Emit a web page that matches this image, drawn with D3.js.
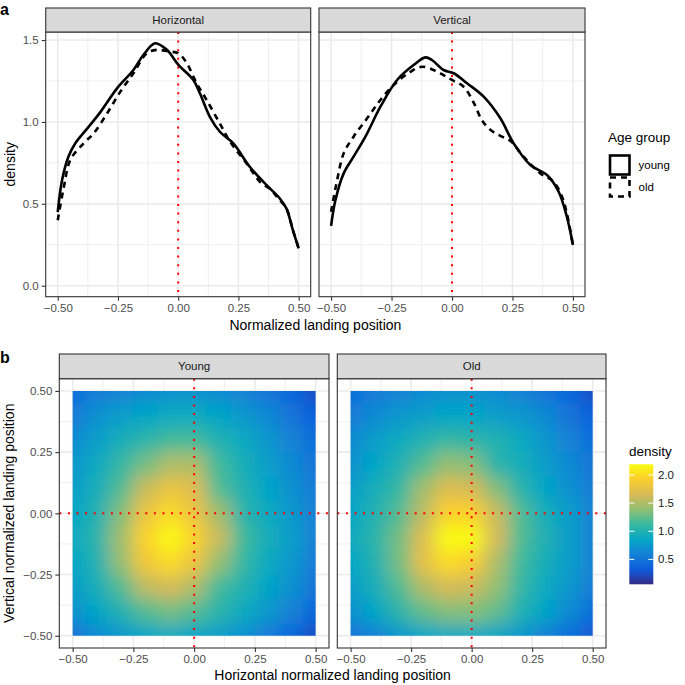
<!DOCTYPE html>
<html><head><meta charset="utf-8">
<script src="https://cdn.jsdelivr.net/npm/d3@7"></script>
<style>
body{margin:0;background:#fff}
svg{display:block}
text{font-family:"Liberation Sans",Arial,Helvetica,sans-serif}
</style>
</head><body>
<svg id="chart" width="685" height="685"></svg>
<script>
// ---------------- DATA ----------------
const facetsA = ["Horizontal", "Vertical"];
const ageGroups = ["young", "old"];

// Panel a: density curves (x = normalized landing position, y = density)
const horizYoungX = [-0.5,-0.482,-0.455,-0.427,-0.372,-0.323,-0.254,-0.186,-0.144,-0.096,-0.047,0.0,0.063,0.09,0.132,0.173,0.228,0.297,0.366,0.421,0.449,0.476,0.5];
const horizYoungY = [0.45,0.645,0.79,0.87,0.97,1.06,1.205,1.317,1.41,1.48,1.44,1.35,1.256,1.175,1.03,0.94,0.87,0.726,0.615,0.534,0.472,0.34,0.228];
const horizOldX = [-0.5,-0.475,-0.447,-0.392,-0.351,-0.296,-0.24,-0.186,-0.13,-0.089,-0.04,0.0,0.035,0.077,0.118,0.173,0.215,0.284,0.339,0.387,0.414,0.449,0.476,0.5];
const horizOldY = [0.40,0.60,0.77,0.87,0.93,1.05,1.185,1.297,1.42,1.44,1.43,1.42,1.36,1.235,1.134,0.99,0.88,0.747,0.635,0.584,0.534,0.472,0.34,0.228];
const vertYoungX = [-0.5,-0.482,-0.448,-0.407,-0.358,-0.296,-0.227,-0.159,-0.11,-0.083,-0.035,0.007,0.062,0.131,0.2,0.255,0.324,0.393,0.441,0.475,0.5];
const vertYoungY = [0.365,0.523,0.686,0.788,0.91,1.093,1.256,1.347,1.394,1.378,1.317,1.297,1.236,1.154,1.022,0.869,0.737,0.676,0.574,0.421,0.248];
const vertOldX = [-0.5,-0.475,-0.448,-0.407,-0.351,-0.296,-0.241,-0.172,-0.124,-0.076,-0.035,0.0,0.048,0.089,0.124,0.16,0.2,0.241,0.296,0.365,0.42,0.455,0.475,0.5];
const vertOldY = [0.452,0.645,0.808,0.91,1.022,1.134,1.225,1.306,1.337,1.317,1.286,1.256,1.215,1.12,1.01,0.95,0.915,0.885,0.788,0.686,0.635,0.543,0.442,0.25];

const posTicks = [-0.5, -0.25, 0, 0.25, 0.5];
const posTickLabels = ["\u22120.50", "\u22120.25", "0.00", "0.25", "0.50"];
const posMinor = [-0.375, -0.125, 0.125, 0.375];
const densTicks = [0, 0.5, 1, 1.5];
const densTickLabels = ["0.0", "0.5", "1.0", "1.5"];
const densMinor = [0.25, 0.75, 1.25];

// Panel b: 2D density grids (rows from vertical +0.5 down to -0.5, columns horizontal -0.5 .. +0.5)
const facetsB = ["Young", "Old"];
const gridPos = [-0.5,-0.4,-0.3,-0.2,-0.1,0,0.1,0.2,0.3,0.4,0.5];
const gridRowPos = [0.5,0.4,0.3,0.2,0.1,0,-0.1,-0.2,-0.3,-0.4,-0.5];
const youngGrid = [
  [0.45,0.55,0.60,0.65,0.70,0.70,0.65,0.60,0.50,0.40,0.25],
  [0.55,0.70,0.80,0.85,0.90,0.90,0.85,0.75,0.65,0.50,0.35],
  [0.65,0.80,0.95,1.05,1.15,1.15,1.00,0.90,0.75,0.60,0.45],
  [0.75,0.90,1.10,1.30,1.50,1.50,1.15,0.95,0.80,0.65,0.50],
  [0.80,0.95,1.20,1.60,1.80,1.70,1.20,1.00,0.85,0.70,0.55],
  [0.85,1.00,1.35,1.80,2.00,1.80,1.45,1.05,0.90,0.75,0.60],
  [0.90,1.05,1.45,1.95,2.40,1.95,1.60,1.15,0.95,0.80,0.60],
  [0.85,1.00,1.40,1.85,2.00,1.80,1.40,1.10,0.90,0.75,0.55],
  [0.80,0.95,1.20,1.55,1.65,1.50,1.15,1.00,0.85,0.70,0.50],
  [0.70,0.85,1.00,1.20,1.30,1.20,1.05,0.90,0.75,0.60,0.40],
  [0.50,0.65,0.75,0.85,0.90,0.85,0.80,0.70,0.55,0.40,0.25]
];
const oldGrid = [
  [0.45,0.55,0.60,0.65,0.70,0.70,0.65,0.60,0.50,0.40,0.25],
  [0.55,0.65,0.75,0.80,0.85,0.85,0.80,0.75,0.65,0.50,0.35],
  [0.65,0.80,0.90,1.00,1.10,1.05,1.00,0.90,0.75,0.60,0.45],
  [0.70,0.85,1.00,1.20,1.40,1.35,1.05,0.95,0.80,0.65,0.50],
  [0.80,0.95,1.10,1.45,1.70,1.65,1.35,1.05,0.85,0.70,0.55],
  [0.85,1.00,1.20,1.55,1.95,1.95,1.60,1.20,0.95,0.80,0.60],
  [0.90,1.05,1.30,1.70,2.20,2.30,1.65,1.20,1.00,0.80,0.60],
  [0.85,1.00,1.30,1.75,2.00,1.90,1.50,1.15,0.95,0.80,0.60],
  [0.80,0.95,1.20,1.50,1.65,1.60,1.40,1.10,0.90,0.75,0.55],
  [0.70,0.85,1.05,1.25,1.35,1.35,1.25,1.00,0.85,0.65,0.45],
  [0.50,0.60,0.75,0.85,0.90,0.90,0.85,0.75,0.60,0.45,0.30]
];
const colorbarTicks = [0.5, 1.0, 1.5, 2.0];
const colorbarTickLabels = ["0.5", "1.0", "1.5", "2.0"];
const colorDomain = [0.057, 2.19];

// ---------------- STYLE ----------------
const parula = ["#352A87","#0F5CDD","#1481D6","#06A7C6","#38B99E","#92BF73","#D9BA56","#FCCE2E","#F9FB0E"];
const GRID = "#ebebeb", BORDER = "#333333", STRIP = "#d9d9d9", TICKTXT = "#4d4d4d";

const svg = d3.select("#chart");
const defs = svg.append("defs");
const color = d3.scaleLinear()
  .domain(parula.map((c, i) => colorDomain[0] + (colorDomain[1] - colorDomain[0]) * i / (parula.length - 1)))
  .range(parula).interpolate(d3.interpolateRgb).clamp(true);

function facet(opt) {
  const g = svg.append("g");
  const x = d3.scaleLinear().domain(opt.xDom).range([opt.x0, opt.x1]);
  const y = d3.scaleLinear().domain(opt.yDom).range([opt.y1, opt.y0]);
  g.append("rect").attr("x", opt.x0).attr("y", opt.y0).attr("width", opt.x1 - opt.x0).attr("height", opt.y1 - opt.y0).attr("fill", "#fff");
  const grid = g.append("g");
  opt.xMinor.forEach(v => grid.append("line").attr("x1", x(v)).attr("x2", x(v)).attr("y1", opt.y0).attr("y2", opt.y1).attr("stroke", GRID).attr("stroke-width", 0.8));
  opt.yMinor.forEach(v => grid.append("line").attr("y1", y(v)).attr("y2", y(v)).attr("x1", opt.x0).attr("x2", opt.x1).attr("stroke", GRID).attr("stroke-width", 0.8));
  opt.xTicks.forEach(v => grid.append("line").attr("x1", x(v)).attr("x2", x(v)).attr("y1", opt.y0).attr("y2", opt.y1).attr("stroke", GRID).attr("stroke-width", 1.6));
  opt.yTicks.forEach(v => grid.append("line").attr("y1", y(v)).attr("y2", y(v)).attr("x1", opt.x0).attr("x2", opt.x1).attr("stroke", GRID).attr("stroke-width", 1.6));
  const content = g.append("g");
  const over = g.append("g");
  g.append("rect").attr("x", opt.x0).attr("y", opt.y0).attr("width", opt.x1 - opt.x0).attr("height", opt.y1 - opt.y0)
    .attr("fill", "none").attr("stroke", BORDER).attr("stroke-width", 1.1);
  // strip
  g.append("rect").attr("x", opt.x0).attr("y", opt.sy0).attr("width", opt.x1 - opt.x0).attr("height", opt.y0 - opt.sy0)
    .attr("fill", STRIP).attr("stroke", BORDER).attr("stroke-width", 1.1);
  g.append("text").attr("x", (opt.x0 + opt.x1) / 2).attr("y", (opt.sy0 + opt.y0) / 2 + 4).attr("text-anchor", "middle")
    .attr("font-size", 11.5).attr("fill", "#1a1a1a").text(opt.strip);
  // x axis
  const xa = d3.axisBottom(x).tickValues(opt.xTicks).tickFormat((d, i) => opt.xLabels[i]).tickSize(4).tickPadding(3);
  const xg = g.append("g").attr("transform", `translate(0,${opt.y1})`).call(xa);
  xg.select(".domain").remove();
  xg.selectAll(".tick line").attr("stroke", BORDER).attr("stroke-width", 1.1);
  xg.selectAll(".tick text").attr("font-size", 11.5).attr("fill", TICKTXT).attr("font-family", '"Liberation Sans",Arial,sans-serif');
  if (opt.showY) {
    const ya = d3.axisLeft(y).tickValues(opt.yTicks).tickFormat((d, i) => opt.yLabels[i]).tickSize(4).tickPadding(3);
    const yg = g.append("g").attr("transform", `translate(${opt.x0},0)`).call(ya);
    yg.select(".domain").remove();
    yg.selectAll(".tick line").attr("stroke", BORDER).attr("stroke-width", 1.1);
    yg.selectAll(".tick text").attr("font-size", 11.5).attr("fill", TICKTXT).attr("font-family", '"Liberation Sans",Arial,sans-serif');
  }
  return { x, y, content, over, opt };
}

function redDotted(g, x1, y1, x2, y2) {
  g.append("line").attr("x1", x1).attr("y1", y1).attr("x2", x2).attr("y2", y2)
    .attr("stroke", "#ff0000").attr("stroke-width", 2).attr("stroke-dasharray", "2,6.6");
}

// ---------------- PANEL A ----------------
const aY0 = 32, aY1 = 296.7, aS0 = 8;
const aXDom = [-0.55, 0.55], aYDom = [-0.067, 1.549];
const aFacets = [
  { x0: 45.7, x1: 310.7, strip: facetsA[0], showY: true, young: [horizYoungX, horizYoungY], old: [horizOldX, horizOldY] },
  { x0: 319, x1: 585, strip: facetsA[1], showY: false, young: [vertYoungX, vertYoungY], old: [vertOldX, vertOldY] }
];
aFacets.forEach(f => {
  const p = facet({
    x0: f.x0, x1: f.x1, y0: aY0, y1: aY1, sy0: aS0, xDom: aXDom, yDom: aYDom,
    xTicks: posTicks, xLabels: posTickLabels, xMinor: posMinor,
    yTicks: densTicks, yLabels: densTickLabels, yMinor: densMinor, strip: f.strip, showY: f.showY
  });
  redDotted(p.content, p.x(0), aY0, p.x(0), aY1);
  const line = d3.line().x(d => p.x(d[0])).y(d => p.y(d[1])).curve(d3.curveCatmullRom.alpha(0.5));
  const oldPts = d3.zip(f.old[0], f.old[1]);
  const youngPts = d3.zip(f.young[0], f.young[1]);
  p.content.append("path").attr("d", line(youngPts)).attr("fill", "none").attr("stroke", "#000").attr("stroke-width", 2.6).attr("stroke-linejoin", "round");
  p.content.append("path").attr("d", line(oldPts)).attr("fill", "none").attr("stroke", "#000").attr("stroke-width", 2.6).attr("stroke-dasharray", "6,5");
});

svg.append("text").attr("x", 0).attr("y", 15).attr("font-size", 16).attr("font-weight", "bold").text("a");
svg.append("text").attr("x", 315.4).attr("y", 330).attr("text-anchor", "middle").attr("font-size", 14).text("Normalized landing position");
svg.append("text").attr("transform", "translate(15,164.3) rotate(-90)").attr("text-anchor", "middle").attr("font-size", 14).text("density");

// legend a
svg.append("text").attr("x", 608).attr("y", 142).attr("font-size", 13.5).text("Age group");
svg.append("rect").attr("x", 610).attr("y", 155.5).attr("width", 19.5).attr("height", 19).attr("fill", "none").attr("stroke", "#000").attr("stroke-width", 2.6);
svg.append("rect").attr("x", 610).attr("y", 177.5).attr("width", 19.5).attr("height", 19).attr("fill", "none").attr("stroke", "#000").attr("stroke-width", 2.6).attr("stroke-dasharray", "6,5");
svg.append("text").attr("x", 638.5).attr("y", 169).attr("font-size", 11.5).text(ageGroups[0]);
svg.append("text").attr("x", 638.5).attr("y", 191).attr("font-size", 11.5).text(ageGroups[1]);

// ---------------- PANEL B ----------------
const bY0 = 378.7, bY1 = 648, bS0 = 354;
const bXDom = [-0.555, 0.555], bYDom = [-0.55, 0.55];
const bFacets = [
  { x0: 59.3, x1: 329, strip: facetsB[0], showY: true, grid: youngGrid, id: "young" },
  { x0: 337.3, x1: 606, strip: facetsB[1], showY: false, grid: oldGrid, id: "old" }
];
bFacets.forEach(f => {
  const p = facet({
    x0: f.x0, x1: f.x1, y0: bY0, y1: bY1, sy0: bS0, xDom: bXDom, yDom: bYDom,
    xTicks: posTicks, xLabels: posTickLabels, xMinor: posMinor,
    yTicks: posTicks, yLabels: posTickLabels, yMinor: posMinor, strip: f.strip, showY: f.showY
  });
  const hx0 = p.x(-0.5), hx1 = p.x(0.5), hy0 = p.y(0.5), hy1 = p.y(-0.5);
  defs.append("clipPath").attr("id", "clip-" + f.id).append("rect")
    .attr("x", hx0).attr("y", hy0).attr("width", hx1 - hx0).attr("height", hy1 - hy0);
  const flt = defs.append("filter").attr("id", "blur-" + f.id).attr("x", "-20%").attr("y", "-20%").attr("width", "140%").attr("height", "140%");
  flt.append("feGaussianBlur").attr("stdDeviation", 8.5);
  const cells = [];
  f.grid.forEach((row, i) => row.forEach((v, j) => cells.push({ gx: gridPos[j], gy: gridRowPos[i], v, i, j })));
  const n = gridPos.length;
  const stepX = p.x(gridPos[1]) - p.x(gridPos[0]);
  const stepY = p.y(gridRowPos[1]) - p.y(gridRowPos[0]);
  const pad = stepX * 1.5;
  p.content.append("g").attr("clip-path", `url(#clip-${f.id})`)
    .append("g").attr("filter", `url(#blur-${f.id})`)
    .selectAll("rect").data(cells).join("rect")
    .attr("x", d => p.x(d.gx) - stepX / 2 - (d.j === 0 ? pad : 0))
    .attr("width", d => stepX + (d.j === 0 ? pad : 0) + (d.j === n - 1 ? pad : 0) + 0.5)
    .attr("y", d => p.y(d.gy) - stepY / 2 - (d.i === 0 ? pad : 0))
    .attr("height", d => stepY + (d.i === 0 ? pad : 0) + (d.i === n - 1 ? pad : 0) + 0.5)
    .attr("fill", d => color(d.v))
    .attr("shape-rendering", "crispEdges");
  redDotted(p.over, p.x(0), bY0, p.x(0), bY1);
  redDotted(p.over, f.x0, p.y(0), f.x1, p.y(0));
});

svg.append("text").attr("x", 0).attr("y", 363).attr("font-size", 16).attr("font-weight", "bold").text("b");
svg.append("text").attr("x", 332.6).attr("y", 680).attr("text-anchor", "middle").attr("font-size", 14).text("Horizontal normalized landing position");
svg.append("text").attr("transform", "translate(14,513.3) rotate(-90)").attr("text-anchor", "middle").attr("font-size", 14).text("Vertical normalized landing position");

// colorbar legend
const cbX = 629.3, cbW = 24, cbTop = 464.3, cbBot = 584.3;
const cbScale = d3.scaleLinear().domain(colorDomain).range([cbBot, cbTop]);
const grad = defs.append("linearGradient").attr("id", "cbgrad").attr("x1", 0).attr("x2", 0).attr("y1", 1).attr("y2", 0);
color.domain().forEach((v, i) => grad.append("stop").attr("offset", i / (color.domain().length - 1)).attr("stop-color", color(v)));
svg.append("text").attr("x", 629).attr("y", 456).attr("font-size", 13.5).text("density");
svg.append("rect").attr("x", cbX).attr("y", cbTop).attr("width", cbW).attr("height", cbBot - cbTop).attr("fill", "url(#cbgrad)");
colorbarTicks.forEach((v, i) => {
  const yy = cbScale(v);
  svg.append("line").attr("x1", cbX).attr("x2", cbX + 5).attr("y1", yy).attr("y2", yy).attr("stroke", "#fff").attr("stroke-width", 1);
  svg.append("line").attr("x1", cbX + cbW - 5).attr("x2", cbX + cbW).attr("y1", yy).attr("y2", yy).attr("stroke", "#fff").attr("stroke-width", 1);
  svg.append("text").attr("x", 658).attr("y", yy + 4).attr("font-size", 11.5).attr("fill", "#1a1a1a").text(colorbarTickLabels[i]);
});
</script>
</body></html>
